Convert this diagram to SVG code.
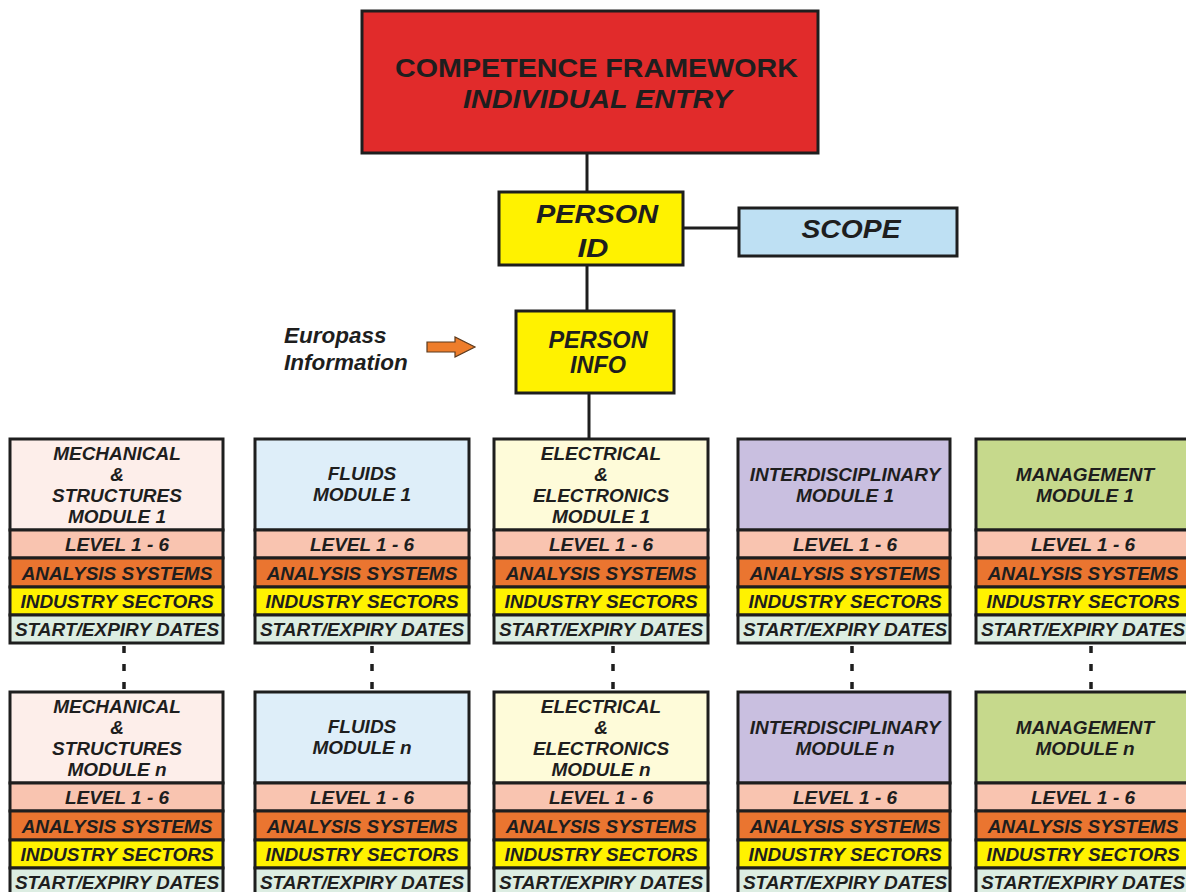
<svg xmlns="http://www.w3.org/2000/svg" width="1186" height="892" viewBox="0 0 1186 892">
<style>
  .bx{stroke:#1e1e1e;stroke-width:3}
  .t{font-family:"Liberation Sans",Arial,sans-serif;font-weight:bold;font-style:italic;fill:#1e1e1e;text-anchor:middle}
  .up{font-style:normal}
  .m{font-size:19px}
  .ln{stroke:#1e1e1e;stroke-width:3;fill:none}
  .dash{stroke:#1e1e1e;stroke-width:3.5;stroke-dasharray:7 11;fill:none}
  .lvl{fill:#F9C4B0}
  .ana{fill:#EA7530}
  .ind{fill:#FFF200}
  .sed{fill:#DCEDE2}
  .hm{fill:#FDEEEA}
  .hf{fill:#DEEEF9}
  .he{fill:#FEFBD9}
  .hi{fill:#C9BFE0}
  .hg{fill:#C6D98C}
</style>
<rect width="1186" height="892" fill="#FFFFFF"/>

<g id="connectors">
  <line class="ln" x1="587" y1="153" x2="587" y2="192"/>
  <line class="ln" x1="683" y1="228" x2="739" y2="228"/>
  <line class="ln" x1="587" y1="265" x2="587" y2="311"/>
  <line class="ln" x1="589" y1="393" x2="589" y2="439"/>
  <line class="dash" x1="124" y1="646" x2="124" y2="690"/>
  <line class="dash" x1="372" y1="646" x2="372" y2="690"/>
  <line class="dash" x1="613" y1="646" x2="613" y2="690"/>
  <line class="dash" x1="852" y1="646" x2="852" y2="690"/>
  <line class="dash" x1="1091" y1="646" x2="1091" y2="690"/>
  <polygon points="427,342 455,342 455,337 475,347 455,357 455,352 427,352" fill="#EE7D2B" stroke="#5a3a1e" stroke-width="1.2"/>
</g>

<g id="framework">
  <rect class="bx" x="362" y="11" width="456" height="142" fill="#E12B2B"/>
  <text class="t up" x="596.5" y="77" font-size="26" textLength="403" lengthAdjust="spacingAndGlyphs">COMPETENCE FRAMEWORK</text>
  <text class="t" x="597.5" y="108" font-size="26" textLength="269" lengthAdjust="spacingAndGlyphs">INDIVIDUAL ENTRY</text>
</g>

<g id="person-id">
  <rect class="bx" x="499" y="192" width="184" height="73" fill="#FFF200"/>
  <text class="t" x="597" y="223" font-size="26" textLength="122" lengthAdjust="spacingAndGlyphs">PERSON</text>
  <text class="t" x="593" y="257" font-size="26" textLength="31" lengthAdjust="spacingAndGlyphs">ID</text>
</g>

<g id="scope">
  <rect class="bx" x="739" y="208" width="218" height="48" fill="#BEE0F3"/>
  <text class="t" x="851" y="238" font-size="26" textLength="99" lengthAdjust="spacingAndGlyphs">SCOPE</text>
</g>

<g id="person-info">
  <rect class="bx" x="516" y="311" width="158" height="82" fill="#FFF200"/>
  <text class="t" x="598" y="348" font-size="23.5">PERSON</text>
  <text class="t" x="598" y="373" font-size="23.5">INFO</text>
</g>

<g id="europass">
  <text class="t" x="284" y="343" font-size="22.5" style="text-anchor:start">Europass</text>
  <text class="t" x="284" y="370" font-size="22.5" style="text-anchor:start">Information</text>
</g>

<!-- Column 1: Mechanical -->
<g id="mech-1">
  <rect class="bx hm" x="10" y="439" width="213" height="91"/>
  <rect class="bx lvl" x="10" y="530" width="213" height="28"/>
  <rect class="bx ana" x="10" y="558" width="213" height="29"/>
  <rect class="bx ind" x="10" y="587" width="213" height="28"/>
  <rect class="bx sed" x="10" y="615" width="213" height="28"/>
  <text class="t m" x="117" y="460">MECHANICAL</text>
  <text class="t m" x="117" y="481">&amp;</text>
  <text class="t m" x="117" y="502">STRUCTURES</text>
  <text class="t m" x="117" y="523">MODULE 1</text>
  <text class="t m" x="117" y="551">LEVEL 1 - 6</text>
  <text class="t m" x="117" y="579.5">ANALYSIS SYSTEMS</text>
  <text class="t m" x="117" y="608">INDUSTRY SECTORS</text>
  <text class="t m" x="117" y="636">START/EXPIRY DATES</text>
</g>
<g id="mech-n">
  <rect class="bx hm" x="10" y="692" width="213" height="91"/>
  <rect class="bx lvl" x="10" y="783" width="213" height="28"/>
  <rect class="bx ana" x="10" y="811" width="213" height="29"/>
  <rect class="bx ind" x="10" y="840" width="213" height="28"/>
  <rect class="bx sed" x="10" y="868" width="213" height="28"/>
  <text class="t m" x="117" y="713">MECHANICAL</text>
  <text class="t m" x="117" y="734">&amp;</text>
  <text class="t m" x="117" y="755">STRUCTURES</text>
  <text class="t m" x="117" y="776">MODULE n</text>
  <text class="t m" x="117" y="804">LEVEL 1 - 6</text>
  <text class="t m" x="117" y="832.5">ANALYSIS SYSTEMS</text>
  <text class="t m" x="117" y="861">INDUSTRY SECTORS</text>
  <text class="t m" x="117" y="889">START/EXPIRY DATES</text>
</g>

<!-- Column 2: Fluids -->
<g id="fluids-1">
  <rect class="bx hf" x="255" y="439" width="214" height="91"/>
  <rect class="bx lvl" x="255" y="530" width="214" height="28"/>
  <rect class="bx ana" x="255" y="558" width="214" height="29"/>
  <rect class="bx ind" x="255" y="587" width="214" height="28"/>
  <rect class="bx sed" x="255" y="615" width="214" height="28"/>
  <text class="t m" x="362" y="480">FLUIDS</text>
  <text class="t m" x="362" y="501">MODULE 1</text>
  <text class="t m" x="362" y="551">LEVEL 1 - 6</text>
  <text class="t m" x="362" y="579.5">ANALYSIS SYSTEMS</text>
  <text class="t m" x="362" y="608">INDUSTRY SECTORS</text>
  <text class="t m" x="362" y="636">START/EXPIRY DATES</text>
</g>
<g id="fluids-n">
  <rect class="bx hf" x="255" y="692" width="214" height="91"/>
  <rect class="bx lvl" x="255" y="783" width="214" height="28"/>
  <rect class="bx ana" x="255" y="811" width="214" height="29"/>
  <rect class="bx ind" x="255" y="840" width="214" height="28"/>
  <rect class="bx sed" x="255" y="868" width="214" height="28"/>
  <text class="t m" x="362" y="733">FLUIDS</text>
  <text class="t m" x="362" y="754">MODULE n</text>
  <text class="t m" x="362" y="804">LEVEL 1 - 6</text>
  <text class="t m" x="362" y="832.5">ANALYSIS SYSTEMS</text>
  <text class="t m" x="362" y="861">INDUSTRY SECTORS</text>
  <text class="t m" x="362" y="889">START/EXPIRY DATES</text>
</g>

<!-- Column 3: Electrical -->
<g id="elec-1">
  <rect class="bx he" x="494" y="439" width="214" height="91"/>
  <rect class="bx lvl" x="494" y="530" width="214" height="28"/>
  <rect class="bx ana" x="494" y="558" width="214" height="29"/>
  <rect class="bx ind" x="494" y="587" width="214" height="28"/>
  <rect class="bx sed" x="494" y="615" width="214" height="28"/>
  <text class="t m" x="601" y="460">ELECTRICAL</text>
  <text class="t m" x="601" y="481">&amp;</text>
  <text class="t m" x="601" y="502">ELECTRONICS</text>
  <text class="t m" x="601" y="523">MODULE 1</text>
  <text class="t m" x="601" y="551">LEVEL 1 - 6</text>
  <text class="t m" x="601" y="579.5">ANALYSIS SYSTEMS</text>
  <text class="t m" x="601" y="608">INDUSTRY SECTORS</text>
  <text class="t m" x="601" y="636">START/EXPIRY DATES</text>
</g>
<g id="elec-n">
  <rect class="bx he" x="494" y="692" width="214" height="91"/>
  <rect class="bx lvl" x="494" y="783" width="214" height="28"/>
  <rect class="bx ana" x="494" y="811" width="214" height="29"/>
  <rect class="bx ind" x="494" y="840" width="214" height="28"/>
  <rect class="bx sed" x="494" y="868" width="214" height="28"/>
  <text class="t m" x="601" y="713">ELECTRICAL</text>
  <text class="t m" x="601" y="734">&amp;</text>
  <text class="t m" x="601" y="755">ELECTRONICS</text>
  <text class="t m" x="601" y="776">MODULE n</text>
  <text class="t m" x="601" y="804">LEVEL 1 - 6</text>
  <text class="t m" x="601" y="832.5">ANALYSIS SYSTEMS</text>
  <text class="t m" x="601" y="861">INDUSTRY SECTORS</text>
  <text class="t m" x="601" y="889">START/EXPIRY DATES</text>
</g>

<!-- Column 4: Interdisciplinary -->
<g id="inter-1">
  <rect class="bx hi" x="738" y="439" width="212" height="91"/>
  <rect class="bx lvl" x="738" y="530" width="212" height="28"/>
  <rect class="bx ana" x="738" y="558" width="212" height="29"/>
  <rect class="bx ind" x="738" y="587" width="212" height="28"/>
  <rect class="bx sed" x="738" y="615" width="212" height="28"/>
  <text class="t m" x="845" y="481">INTERDISCIPLINARY</text>
  <text class="t m" x="845" y="502">MODULE 1</text>
  <text class="t m" x="845" y="551">LEVEL 1 - 6</text>
  <text class="t m" x="845" y="579.5">ANALYSIS SYSTEMS</text>
  <text class="t m" x="845" y="608">INDUSTRY SECTORS</text>
  <text class="t m" x="845" y="636">START/EXPIRY DATES</text>
</g>
<g id="inter-n">
  <rect class="bx hi" x="738" y="692" width="212" height="91"/>
  <rect class="bx lvl" x="738" y="783" width="212" height="28"/>
  <rect class="bx ana" x="738" y="811" width="212" height="29"/>
  <rect class="bx ind" x="738" y="840" width="212" height="28"/>
  <rect class="bx sed" x="738" y="868" width="212" height="28"/>
  <text class="t m" x="845" y="734">INTERDISCIPLINARY</text>
  <text class="t m" x="845" y="755">MODULE n</text>
  <text class="t m" x="845" y="804">LEVEL 1 - 6</text>
  <text class="t m" x="845" y="832.5">ANALYSIS SYSTEMS</text>
  <text class="t m" x="845" y="861">INDUSTRY SECTORS</text>
  <text class="t m" x="845" y="889">START/EXPIRY DATES</text>
</g>

<!-- Column 5: Management -->
<g id="mgmt-1">
  <rect class="bx hg" x="976" y="439" width="216" height="91"/>
  <rect class="bx lvl" x="976" y="530" width="216" height="28"/>
  <rect class="bx ana" x="976" y="558" width="216" height="29"/>
  <rect class="bx ind" x="976" y="587" width="216" height="28"/>
  <rect class="bx sed" x="976" y="615" width="216" height="28"/>
  <text class="t m" x="1085" y="481">MANAGEMENT</text>
  <text class="t m" x="1085" y="502">MODULE 1</text>
  <text class="t m" x="1083" y="551">LEVEL 1 - 6</text>
  <text class="t m" x="1083" y="579.5">ANALYSIS SYSTEMS</text>
  <text class="t m" x="1083" y="608">INDUSTRY SECTORS</text>
  <text class="t m" x="1083" y="636">START/EXPIRY DATES</text>
</g>
<g id="mgmt-n">
  <rect class="bx hg" x="976" y="692" width="216" height="91"/>
  <rect class="bx lvl" x="976" y="783" width="216" height="28"/>
  <rect class="bx ana" x="976" y="811" width="216" height="29"/>
  <rect class="bx ind" x="976" y="840" width="216" height="28"/>
  <rect class="bx sed" x="976" y="868" width="216" height="28"/>
  <text class="t m" x="1085" y="734">MANAGEMENT</text>
  <text class="t m" x="1085" y="755">MODULE n</text>
  <text class="t m" x="1083" y="804">LEVEL 1 - 6</text>
  <text class="t m" x="1083" y="832.5">ANALYSIS SYSTEMS</text>
  <text class="t m" x="1083" y="861">INDUSTRY SECTORS</text>
  <text class="t m" x="1083" y="889">START/EXPIRY DATES</text>
</g>
</svg>
